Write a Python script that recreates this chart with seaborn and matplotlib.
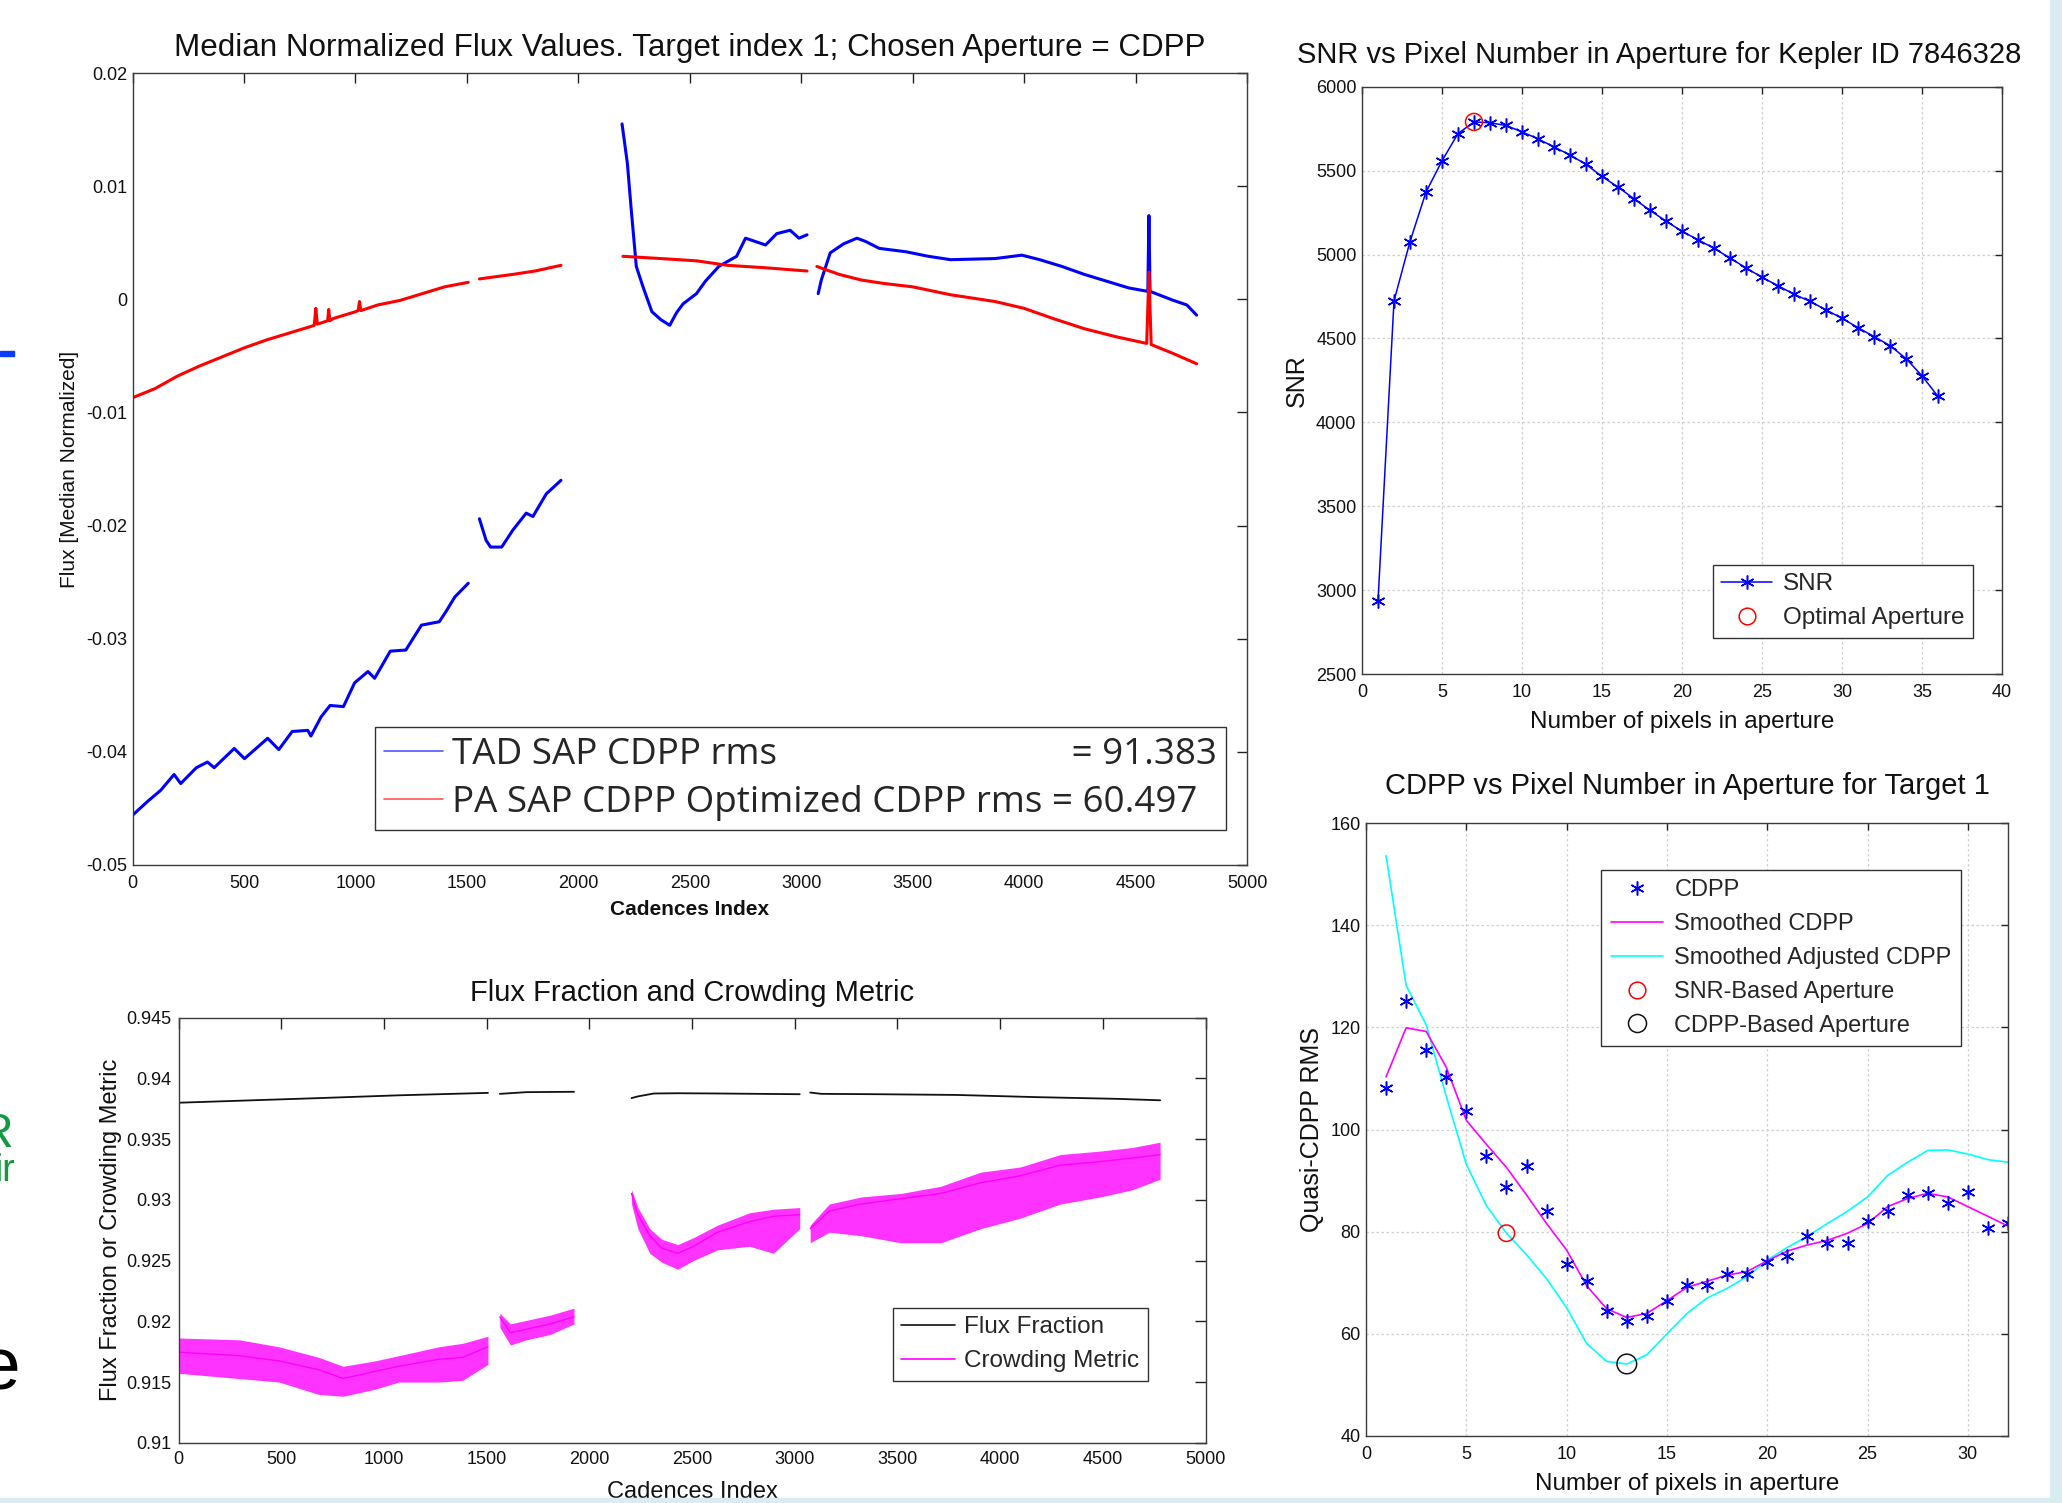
import numpy as np
import pandas as pd
import matplotlib
matplotlib.use("Agg")
import matplotlib.pyplot as plt
import seaborn as sns
from matplotlib.patches import Rectangle
from matplotlib.lines import Line2D

# ---------------- data: main flux plot ----------------
tad_cad = [0, 66, 126, 186, 216, 286, 336, 366, 456, 502, 606, 656, 716, 786, 800, 846, 886, 946, 996,
           1056, 1086, 1156, 1226, 1296, 1376, 1406, 1446, 1506,
           1556, 1586, 1606, 1656, 1706, 1766, 1796, 1856, 1922,
           2196, 2220, 2236, 2260, 2290, 2330, 2370, 2410, 2440, 2470, 2530, 2570, 2630, 2710, 2750,
           2840, 2890, 2950, 2990, 3026,
           3076, 3090, 3130, 3190, 3250, 3290, 3350, 3470, 3570, 3670, 3870, 3990, 4070, 4170, 4270,
           4370, 4470, 4555, 4560, 4565, 4670, 4730, 4774]
tad_flux = [-0.0456, -0.0444, -0.0434, -0.0420, -0.0428, -0.0414, -0.0409, -0.0414, -0.0397, -0.0406,
            -0.0388, -0.0398, -0.0382, -0.0381, -0.0386, -0.0369, -0.0359, -0.0360, -0.0339, -0.0329,
            -0.0335, -0.0311, -0.0310, -0.0288, -0.0285, -0.0276, -0.0263, -0.0251,
            -0.0194, -0.0213, -0.0219, -0.0219, -0.0204, -0.0189, -0.0192, -0.0172, -0.0160,
            0.0155, 0.0120, 0.0082, 0.0029, 0.0011, -0.0011, -0.0018, -0.0023, -0.0012, -0.0004, 0.0005,
            0.0016, 0.0029, 0.0038, 0.0054, 0.0048, 0.0058, 0.0061, 0.0054, 0.0057,
            0.0005, 0.0017, 0.0041, 0.0049, 0.0054, 0.0051, 0.0045, 0.0042, 0.0038, 0.0035, 0.0036,
            0.0039, 0.0035, 0.0029, 0.0022, 0.0016, 0.0010, 0.0007, 0.0074, 0.0007, -0.0001, -0.0005, -0.0014]
tad_seg = [1] * 28 + [2] * 9 + [3] * 20 + [4] * 23

pa_cad = [0, 100, 200, 300, 400, 500, 600, 700, 800, 815, 822, 829, 875, 880, 885, 900, 1000, 1012, 1018,
          1024, 1100, 1200, 1300, 1400, 1506,
          1556, 1706, 1806, 1922,
          2200, 2370, 2530, 2670, 2830, 3026,
          3070, 3170, 3270, 3370, 3500, 3670, 3870, 4000, 4130, 4270, 4410, 4550, 4560, 4570, 4670, 4774]
pa_flux = [-0.0087, -0.0079, -0.0068, -0.0059, -0.0051, -0.0043, -0.0036, -0.0030, -0.0024, -0.0023,
           -0.0008, -0.0022, -0.0019, -0.0009, -0.0019, -0.0017, -0.0011, -0.0010, -0.0002, -0.0010,
           -0.0005, -0.0001, 0.0005, 0.0011, 0.0015,
           0.0018, 0.0022, 0.0025, 0.0030,
           0.0038, 0.0036, 0.0034, 0.0030, 0.0028, 0.0025,
           0.0029, 0.0022, 0.0017, 0.0014, 0.0011, 0.0004, -0.0002, -0.0008, -0.0017, -0.0026, -0.0033,
           -0.0039, 0.0024, -0.0040, -0.0048, -0.0057]
pa_seg = [1] * 25 + [2] * 4 + [3] * 6 + [4] * 16

main_xticks = [0, 500, 1000, 1500, 2000, 2500, 3000, 3500, 4000, 4500, 5000]
main_yticks = [-0.05, -0.04, -0.03, -0.02, -0.01, 0.0, 0.01, 0.02]
main_yticklabels = ['-0.05', '-0.04', '-0.03', '-0.02', '-0.01', '0', '0.01', '0.02']
tad_label = "TAD SAP CDPP rms" + " " * 31 + "= 91.383"
pa_label = "PA SAP CDPP Optimized CDPP rms = 60.497"

# ---------------- data: flux fraction / crowding ----------------
ff_cad = [0, 683, 1071, 1506, 1564, 1693, 1925, 2205, 2236, 2314, 2430, 2624, 3024,
          3075, 3129, 3400, 3789, 4177, 4565, 4779]
ff_val = [0.9380, 0.93838, 0.93861, 0.93881, 0.93873, 0.93887, 0.9389, 0.93838, 0.93852, 0.93876,
          0.93878, 0.93876, 0.9387, 0.93884, 0.93873, 0.9387, 0.93864, 0.93846, 0.93832, 0.9382]
ff_seg = [1] * 4 + [2] * 3 + [3] * 6 + [4] * 7

cm_cad = [0, 295, 489, 683, 800, 955, 1071, 1266, 1382, 1506,
          1564, 1615, 1693, 1809, 1925,
          2205, 2236, 2294, 2352, 2430, 2508, 2624, 2780, 2896, 3024,
          3075, 3168, 3323, 3517, 3711, 3905, 4099, 4293, 4488, 4643, 4779]
cm_mid = [0.91746, 0.91717, 0.91674, 0.91601, 0.91529, 0.91587, 0.9163, 0.91688, 0.91703, 0.9179,
          0.92037, 0.91906, 0.91935, 0.91979, 0.92037,
          0.93053, 0.92879, 0.92705, 0.92603, 0.9256, 0.92618, 0.92734, 0.92821, 0.92865, 0.92879,
          0.92763, 0.92908, 0.92966, 0.9301, 0.93053, 0.93141, 0.93199, 0.93286, 0.93315, 0.93344, 0.93373]
cm_upper = [0.91863, 0.91848, 0.9179, 0.91703, 0.9163, 0.91674, 0.91717, 0.9179, 0.91819, 0.91877,
            0.92066, 0.91979, 0.92008, 0.92051, 0.92109,
            0.93083, 0.92937, 0.92763, 0.92676, 0.92632, 0.9269, 0.92792, 0.92894, 0.92923, 0.92937,
            0.92792, 0.92966, 0.93024, 0.93053, 0.93112, 0.93228, 0.93271, 0.93373, 0.93402, 0.93431, 0.93475]
cm_lower = [0.91572, 0.91529, 0.915, 0.91398, 0.91383, 0.91441, 0.915, 0.915, 0.91514, 0.91645,
            0.9195, 0.91805, 0.91848, 0.91892, 0.91979,
            0.92966, 0.92763, 0.9256, 0.92487, 0.92429, 0.92502, 0.92589, 0.92618, 0.9256, 0.92763,
            0.92647, 0.92734, 0.92705, 0.92647, 0.92647, 0.92763, 0.9285, 0.92966, 0.93024, 0.93083, 0.9317]
cm_seg = [1] * 10 + [2] * 5 + [3] * 10 + [4] * 11

ff_yticks = [0.91, 0.915, 0.92, 0.925, 0.93, 0.935, 0.94, 0.945]
ff_yticklabels = ['0.91', '0.915', '0.92', '0.925', '0.93', '0.935', '0.94', '0.945']

# ---------------- data: SNR vs pixels ----------------
snr_pixels = list(range(1, 37))
snr_values = [2934, 4723, 5077, 5372, 5558, 5721, 5790, 5785, 5769, 5731, 5689, 5641, 5593, 5537,
              5465, 5402, 5332, 5263, 5199, 5138, 5088, 5037, 4979, 4920, 4864, 4814, 4763, 4721,
              4670, 4620, 4564, 4511, 4457, 4380, 4277, 4154]
snr_opt_pixel = [7]
snr_opt_value = [5790]

# ---------------- data: CDPP vs pixels ----------------
cdpp_pixels = list(range(1, 33))
cdpp_values = [108.2, 125.2, 115.5, 110.3, 103.7, 94.8, 88.8, 92.9, 84.0, 73.6, 70.3, 64.4, 62.5, 63.4,
               66.5, 69.6, 69.6, 71.7, 71.7, 74.1, 75.2, 79.2, 77.8, 77.8, 82.1, 84.0, 87.2, 87.5,
               85.6, 87.7, 80.8, 81.6]
cdpp_smoothed = [110.3, 119.9, 119.2, 112.2, 101.8, 97.1, 92.6, 87.2, 81.6, 76.4, 69.4, 64.9, 63.2, 64.0,
                 66.5, 69.1, 70.3, 71.5, 72.2, 74.3, 76.2, 77.4, 78.3, 79.7, 81.6, 84.9, 86.5, 87.5,
                 86.8, 84.9, 83.0, 81.1]
cdpp_adjusted = [153.6, 128.2, 120.5, 106.5, 93.2, 85.1, 79.7, 75.5, 70.8, 65.1, 58.1, 54.6, 54.1, 55.9,
                 60.0, 64.0, 67.0, 68.9, 71.2, 74.4, 76.9, 79.1, 81.6, 84.0, 86.8, 91.0, 93.6, 95.9,
                 96.0, 95.2, 94.1, 93.6]
snr_based_ap = ([7], [79.7])
cdpp_based_ap = ([13], [54.1])

# ---------------- styling ----------------
W, H = 2062, 1503
sns.set_theme(style="white")
plt.rcParams['font.family'] = ['Liberation Sans', 'DejaVu Sans']
plt.rcParams['axes.unicode_minus'] = False

fig = plt.figure(figsize=(W / 100, H / 100), dpi=100)
fig.patch.set_facecolor('white')

SPINE = '#3c3c3c'
ASTER = (6, 2, 0)


def axes_px(left, top, right, bottom):
    return fig.add_axes([left / W, 1 - bottom / H, (right - left) / W, (bottom - top) / H])


def style_axes(ax, ticklen=7, xpad=7, ypad=4, labelsize=13):
    for s in ax.spines.values():
        s.set_color(SPINE)
        s.set_linewidth(1.0)
        s.set_visible(True)
    ax.tick_params(direction='in', top=True, right=True, length=ticklen, width=1.0,
                   colors='#222222', labelsize=labelsize, labelcolor='#111111')
    ax.tick_params(axis='x', pad=xpad)
    ax.tick_params(axis='y', pad=ypad)


# slide background pieces
fig.patches.append(Rectangle((2050 / W, 0), 12 / W, 1, transform=fig.transFigure,
                             color='#d9ecf2', zorder=0))
fig.patches.append(Rectangle((0, 0), 1, 5 / H, transform=fig.transFigure,
                             color='#d9ecf2', zorder=0))
fig.patches.append(Rectangle((0, 1 - 356 / H), 14 / W, 5 / H, transform=fig.transFigure,
                             color='#0a3cff', zorder=0))
fig.text(15 / W, 1 - 1147 / H, "SNR", color='#119a3f', fontsize=35, ha='right', va='baseline')
fig.text(15 / W, 1 - 1181 / H, "ir", color='#119a3f', fontsize=27, ha='right', va='baseline')
fig.text(20 / W, 1 - 1389 / H, "e", color='black', fontsize=54, ha='right', va='baseline')

# ---------------- main plot ----------------
ax1 = axes_px(132.6, 73, 1247, 865)
df_tad = pd.DataFrame({'cad': tad_cad, 'flux': tad_flux, 'seg': tad_seg})
df_pa = pd.DataFrame({'cad': pa_cad, 'flux': pa_flux, 'seg': pa_seg})
sns.lineplot(data=df_tad, x='cad', y='flux', units='seg', estimator=None, sort=False,
             color='#0000ff', lw=2.2, ax=ax1)
sns.lineplot(data=df_pa, x='cad', y='flux', units='seg', estimator=None, sort=False,
             color='#ff0000', lw=2.2, ax=ax1)
ax1.set_xlim(0, 5000)
ax1.set_ylim(-0.05, 0.02)
ax1.set_xticks(main_xticks)
ax1.set_xticklabels([str(t) for t in main_xticks])
ax1.set_yticks(main_yticks)
ax1.set_yticklabels(main_yticklabels)
style_axes(ax1, ticklen=7, xpad=7, ypad=4)
ax1.set_title("Median Normalized Flux Values. Target index 1; Chosen Aperture = CDPP",
              fontsize=22.6, pad=12, color='#111111')
ax1.set_xlabel("Cadences Index", fontsize=15, fontweight='bold', color='#111111', va='top')
ax1.xaxis.set_label_coords(0.5, -(900 - 865) / 792)
ax1.set_ylabel("Flux [Median Normalized]", fontsize=15, color='#111111')
ax1.yaxis.set_label_coords((79 - 132.6) / 1114.4, 0.5)
h1 = [Line2D([], [], color='#5555ff', lw=1.2), Line2D([], [], color='#ff5555', lw=1.2)]
leg1 = ax1.legend(h1, [tad_label, pa_label], loc='lower right',
                  bbox_to_anchor=(0.9815, 0.0442), borderaxespad=0,
                  prop={'family': 'Open Sans', 'size': 26.5}, handlelength=1.6,
                  handletextpad=0.25, borderpad=0.25, labelspacing=0.33,
                  fancybox=False, framealpha=1, edgecolor='#333333')
leg1.get_frame().set_linewidth(1.0)

# ---------------- flux fraction plot ----------------
ax2 = axes_px(178.7, 1017.7, 1205.5, 1442.8)
df_ff = pd.DataFrame({'cad': ff_cad, 'val': ff_val, 'seg': ff_seg})
df_cm = pd.DataFrame({'cad': cm_cad, 'mid': cm_mid, 'lo': cm_lower, 'hi': cm_upper, 'seg': cm_seg})
for s, g in df_cm.groupby('seg'):
    ax2.fill_between(g['cad'], g['lo'], g['hi'], color='#ff00ff', alpha=0.8, lw=0)
sns.lineplot(data=df_cm, x='cad', y='mid', units='seg', estimator=None, sort=False,
             color='#ff00ff', lw=1.0, ax=ax2)
sns.lineplot(data=df_ff, x='cad', y='val', units='seg', estimator=None, sort=False,
             color='#111111', lw=1.3, ax=ax2)
ax2.set_xlim(0, 5000)
ax2.set_ylim(0.91, 0.945)
ax2.set_xticks(main_xticks)
ax2.set_xticklabels([str(t) for t in main_xticks])
ax2.set_yticks(ff_yticks)
ax2.set_yticklabels(ff_yticklabels)
style_axes(ax2, ticklen=8, xpad=6, ypad=5)
ax2.set_title("Flux Fraction and Crowding Metric", fontsize=21, pad=12, color='#111111')
ax2.set_xlabel("Cadences Index", fontsize=17, color='#111111', va='top')
ax2.xaxis.set_label_coords(0.5, -(1481 - 1442.8) / 425.1)
ax2.set_ylabel("Flux Fraction or Crowding Metric", fontsize=17, color='#111111')
ax2.yaxis.set_label_coords((122 - 178.7) / 1026.8, 0.5)
h2 = [Line2D([], [], color='#111111', lw=1.2), Line2D([], [], color='#ff00ff', lw=1.2)]
leg2 = ax2.legend(h2, ["Flux Fraction", "Crowding Metric"], loc='lower right',
                  bbox_to_anchor=(0.944, 0.1454), borderaxespad=0, fontsize=17.5,
                  handlelength=2.2, handletextpad=0.4, borderpad=0.35, labelspacing=0.5,
                  fancybox=False, framealpha=1, edgecolor='#333333')
leg2.get_frame().set_linewidth(1.0)

# ---------------- SNR plot ----------------
ax3 = axes_px(1362, 86.7, 2002, 674)
ax3.grid(True, color='#cfcfcf', lw=0.9, ls=(0, (2, 2)))
ax3.set_axisbelow(True)
sns.lineplot(x=snr_pixels, y=snr_values, color='#0000ff', lw=1.1, marker=ASTER, markersize=10,
             markeredgecolor='#0000ff', markeredgewidth=1.1, ax=ax3)
sns.scatterplot(x=snr_opt_pixel, y=snr_opt_value, marker='o', s=150, facecolor='none',
                edgecolor='#ff0000', linewidth=1.1, ax=ax3, zorder=5)
ax3.set_xlim(0, 40)
ax3.set_ylim(2500, 6000)
ax3.set_xticks(list(range(0, 41, 5)))
ax3.set_yticks(list(range(2500, 6001, 500)))
style_axes(ax3, ticklen=5, xpad=7, ypad=4)
ax3.set_title("SNR vs Pixel Number in Aperture for Kepler ID 7846328", fontsize=21, pad=17,
              x=(1659 - 1362) / 640, color='#111111')
ax3.set_xlabel("Number of pixels in aperture", fontsize=17.5, color='#111111', va='top')
ax3.xaxis.set_label_coords(0.5, -(711 - 674) / 587.3)
ax3.set_ylabel("SNR", fontsize=18, color='#111111')
ax3.yaxis.set_label_coords((1309 - 1362) / 640, 0.5)
h3 = [Line2D([], [], color='#0000ff', lw=1.1, marker=ASTER, markersize=10, markeredgewidth=1.1),
      Line2D([], [], color='#ff0000', lw=0, marker='o', markersize=12, markerfacecolor='none',
             markeredgewidth=1.1)]
leg3 = ax3.legend(h3, ["SNR", "Optimal Aperture"], loc='lower right', bbox_to_anchor=(0.9547, 0.0613),
                  borderaxespad=0, fontsize=17.5, handlelength=2.1, handletextpad=0.45, borderpad=0.35,
                  labelspacing=0.5, fancybox=False, framealpha=1, edgecolor='#333333')
leg3.get_frame().set_linewidth(1.0)

# ---------------- CDPP plot ----------------
ax4 = axes_px(1366, 823, 2008, 1436)
ax4.grid(True, color='#cfcfcf', lw=0.9, ls=(0, (2, 2)))
ax4.set_axisbelow(True)
sns.lineplot(x=cdpp_pixels, y=cdpp_adjusted, color='#00ffff', lw=1.2, ax=ax4)
sns.lineplot(x=cdpp_pixels, y=cdpp_smoothed, color='#ff00ff', lw=1.2, ax=ax4)
sns.lineplot(x=cdpp_pixels, y=cdpp_values, color='#0000ff', linestyle='', marker=ASTER, markersize=10,
             markeredgecolor='#0000ff', markeredgewidth=1.1, ax=ax4)
sns.scatterplot(x=snr_based_ap[0], y=snr_based_ap[1], marker='o', s=140, facecolor='none',
                edgecolor='#ff0000', linewidth=1.1, ax=ax4, zorder=5)
sns.scatterplot(x=cdpp_based_ap[0], y=cdpp_based_ap[1], marker='o', s=200, facecolor='none',
                edgecolor='#111111', linewidth=1.1, ax=ax4, zorder=5)
ax4.set_xlim(0, 32)
ax4.set_ylim(40, 160)
ax4.set_xticks(list(range(0, 31, 5)))
ax4.set_yticks(list(range(40, 161, 20)))
style_axes(ax4, ticklen=5, xpad=7, ypad=4)
ax4.set_title("CDPP vs Pixel Number in Aperture for Target 1", fontsize=21, pad=21, color='#111111')
ax4.set_xlabel("Number of pixels in aperture", fontsize=17.5, color='#111111', va='top')
ax4.xaxis.set_label_coords(0.5, -(1473 - 1436) / 613)
ax4.set_ylabel("Quasi-CDPP RMS", fontsize=18, color='#111111')
ax4.yaxis.set_label_coords((1324 - 1366) / 642, 0.5)
h4 = [Line2D([], [], color='#0000ff', lw=0, marker=ASTER, markersize=10, markeredgewidth=1.1),
      Line2D([], [], color='#ff00ff', lw=1.2),
      Line2D([], [], color='#00ffff', lw=1.2),
      Line2D([], [], color='#ff0000', lw=0, marker='o', markersize=12, markerfacecolor='none',
             markeredgewidth=1.1),
      Line2D([], [], color='#111111', lw=0, marker='o', markersize=13, markerfacecolor='none',
             markeredgewidth=1.1)]
leg4 = ax4.legend(h4, ["CDPP", "Smoothed CDPP", "Smoothed Adjusted CDPP", "SNR-Based Aperture",
                       "CDPP-Based Aperture"], loc='upper right', bbox_to_anchor=(0.9268, 0.9233),
                  borderaxespad=0, fontsize=17, handlelength=2.2, handletextpad=0.5, borderpad=0.4,
                  labelspacing=0.5, fancybox=False, framealpha=1, edgecolor='#333333')
leg4.get_frame().set_linewidth(1.0)

fig.savefig("out.png", dpi=100, facecolor='white')
